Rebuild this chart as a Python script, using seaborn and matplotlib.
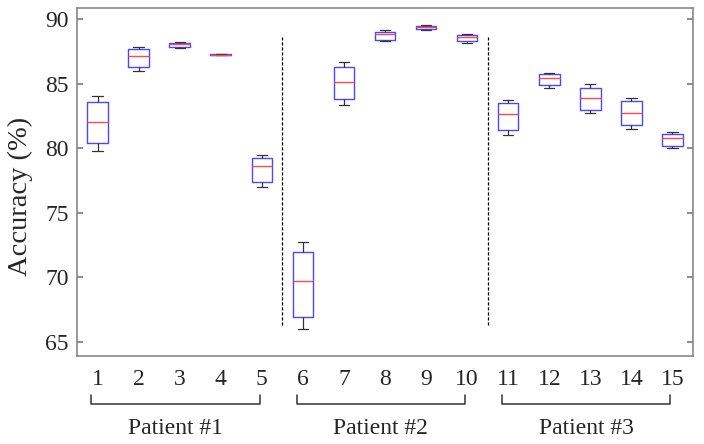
import pandas as pd
import matplotlib.pyplot as plt
import matplotlib.transforms as mtransforms
import numpy as np
import seaborn as sns

sns.set_theme(style='white')
plt.rcParams['font.family'] = ['Liberation Serif', 'DejaVu Serif']

# box statistics (one entry per condition 1..15)
conditions = [str(i) for i in range(1, 16)]
whisker_lo = [79.78, 85.98, 87.76, 87.20, 76.97, 66.00, 83.37, 88.27, 89.15, 88.17, 81.00, 84.66, 82.70, 81.49, 80.04]
q1 = [80.38, 86.26, 87.86, 87.21, 77.38, 66.91, 83.81, 88.40, 89.23, 88.27, 81.41, 84.87, 82.96, 81.77, 80.17]
median = [82.05, 87.11, 88.10, 87.23, 78.65, 69.75, 85.10, 88.86, 89.36, 88.58, 82.67, 85.43, 83.86, 82.75, 80.77]
q3 = [83.55, 87.68, 88.17, 87.25, 79.27, 71.99, 86.26, 89.02, 89.48, 88.74, 83.47, 85.72, 84.68, 83.63, 81.12]
whisker_hi = [84.06, 87.86, 88.20, 87.26, 79.50, 72.74, 86.65, 89.17, 89.54, 88.81, 83.73, 85.82, 84.94, 83.86, 81.25]

groups = ['Patient #1', 'Patient #2', 'Patient #3']
group_sizes = [5, 5, 5]

rows = []
for i, c in enumerate(conditions):
    for v in (whisker_lo[i], q1[i], median[i], q3[i], whisker_hi[i]):
        rows.append({'Condition': c, 'Accuracy': v})
df = pd.DataFrame(rows)


def plotBoxes():
    fig = plt.figure(figsize=(7.04, 4.44), dpi=100)
    ax = fig.add_axes([0.1094, 0.198, 0.875, 0.784])

    sns.boxplot(data=df, x='Condition', y='Accuracy', order=conditions, ax=ax,
                width=0.5, fill=False, color='#4848ff', whis=(0, 100),
                showfliers=False, linewidth=1.0,
                medianprops={'color': '#ff4a4a', 'linewidth': 1.0},
                whiskerprops={'color': '#333333', 'linewidth': 0.9},
                capprops={'color': '#333333', 'linewidth': 0.9})

    ax.set_xlim(-0.5, len(conditions) - 0.5)
    ax.set_ylim(63.9, 90.85)
    ax.set_yticks([65, 70, 75, 80, 85, 90])

    # dashed separators between patients
    edges = np.cumsum(group_sizes)[:-1] - 0.5
    ax.vlines(edges, 66.3, 88.6, colors='black', linestyles=(0, (2.5, 1.5)), linewidth=0.9)

    for s in ax.spines.values():
        s.set_visible(True)
        s.set_color('#7f7f7f')
        s.set_linewidth(1.1)

    ax.tick_params(axis='y', direction='in', length=4, color='#7f7f7f', labelsize=17,
                   left=True, right=True, pad=6)
    ax.tick_params(axis='x', length=0, labelsize=17, pad=9)
    ax.set_xlabel('')
    ax.set_ylabel('Accuracy (%)', fontsize=20.5)
    ax.yaxis.set_label_coords(-0.072, 0.46)

    # brackets with patient labels under the tick labels
    trans = mtransforms.blended_transform_factory(ax.transData, ax.transAxes)
    start = 0
    for name, n in zip(groups, group_sizes):
        x0, x1 = start - 0.15, start + n - 1 - 0.05
        ax.plot([x0, x0, x1, x1], [-0.112, -0.138, -0.138, -0.112], color='#333333',
                linewidth=1.1, transform=trans, clip_on=False)
        ax.text((x0 + x1) / 2, -0.207, name, transform=trans, ha='center', va='center',
                fontsize=17)
        start += n

    plt.savefig('out.png', dpi=100)


def main():
    plotBoxes()


if __name__ == "__main__":
    main()
